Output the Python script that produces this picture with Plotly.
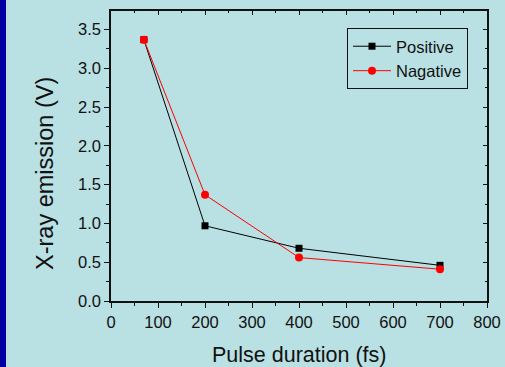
import plotly.graph_objects as go

pulse_fs = [70, 200, 400, 700]
positive_v = [3.37, 0.97, 0.68, 0.46]
negative_v = [3.37, 1.37, 0.56, 0.41]
series_names = ["Positive", "Nagative"]

BG = "#b9e0e3"
FONT = "Liberation Sans, Arial, sans-serif"

W, H = 505, 367
L, R, T, B = 111, 18, 11, 66
pw, ph = W - L - R, H - T - B

def px(xp):
    return (xp - L) / pw

def py(yp):
    return (H - B - yp) / ph

fig = go.Figure()
fig.add_trace(go.Scatter(x=pulse_fs, y=positive_v, name=series_names[0], mode="lines+markers",
                         line=dict(color="black", width=1),
                         marker=dict(symbol="square", size=7, color="black")))
fig.add_trace(go.Scatter(x=pulse_fs, y=negative_v, name=series_names[1], mode="lines+markers",
                         line=dict(color="#ff0000", width=1),
                         marker=dict(symbol="circle", size=8, color="#ff0000")))

axis_common = dict(showgrid=False, zeroline=False, showline=True, linecolor="#111111", linewidth=1.5,
                   tickcolor="#111111", tickwidth=1, automargin=False)

fig.update_layout(
    width=W, height=H,
    margin=dict(l=L, r=R, t=T, b=B, autoexpand=False),
    paper_bgcolor=BG, plot_bgcolor=BG,
    font=dict(family=FONT, size=16, color="#111111"),
    xaxis=dict(range=[0, 800], dtick=100, tick0=0, ticks="outside", ticklen=5,
               minor=dict(dtick=50, ticks="outside", ticklen=3, tickcolor="#111111"),
               tickfont=dict(size=16.5), **axis_common),
    yaxis=dict(range=[0, 3.74], dtick=0.5, tick0=0, tickformat=".1f", ticks="outside", ticklen=5,
               minor=dict(dtick=0.25, ticks="outside", ticklen=3, tickcolor="#111111"),
               tickfont=dict(size=16.5), **axis_common),
    xaxis2=dict(range=[0, 800], dtick=100, tick0=0, overlaying="x", side="top", ticks="inside",
                ticklen=4, showticklabels=False,
                minor=dict(dtick=50, ticks="inside", ticklen=2, tickcolor="#111111"),
                **axis_common),
    yaxis2=dict(range=[0, 3.74], dtick=0.5, tick0=0, overlaying="y", side="right", ticks="inside",
                ticklen=4, showticklabels=False,
                minor=dict(dtick=0.25, ticks="inside", ticklen=2, tickcolor="#111111"),
                **axis_common),
    legend=dict(x=px(347), y=py(28), xanchor="left", yanchor="top",
                bgcolor=BG, bordercolor="#111111", borderwidth=1,
                font=dict(size=16.5), tracegroupgap=0, entrywidth=88, itemwidth=38),
    showlegend=True,
)

# empty trace to anchor the mirrored axes
fig.add_trace(go.Scatter(x=[], y=[], xaxis="x2", yaxis="y2", showlegend=False, hoverinfo="skip"))

fig.add_annotation(text="X-ray emission (V)", x=px(45), y=py(174), xref="paper", yref="paper",
                   xanchor="center", yanchor="middle",
                   textangle=-90, showarrow=False, font=dict(size=23.5, family=FONT, color="#111111"))
fig.add_annotation(text="Pulse duration (fs)", x=px(299), y=py(355), xref="paper", yref="paper",
                   xanchor="center", yanchor="middle",
                   showarrow=False, font=dict(size=21.5, family=FONT, color="#111111"))

fig.add_shape(type="rect", xref="paper", yref="paper", x0=px(0), x1=px(6), y0=py(H), y1=py(0),
              fillcolor="#0000a0", line=dict(width=0), layer="above")

fig.write_html("out.html")
